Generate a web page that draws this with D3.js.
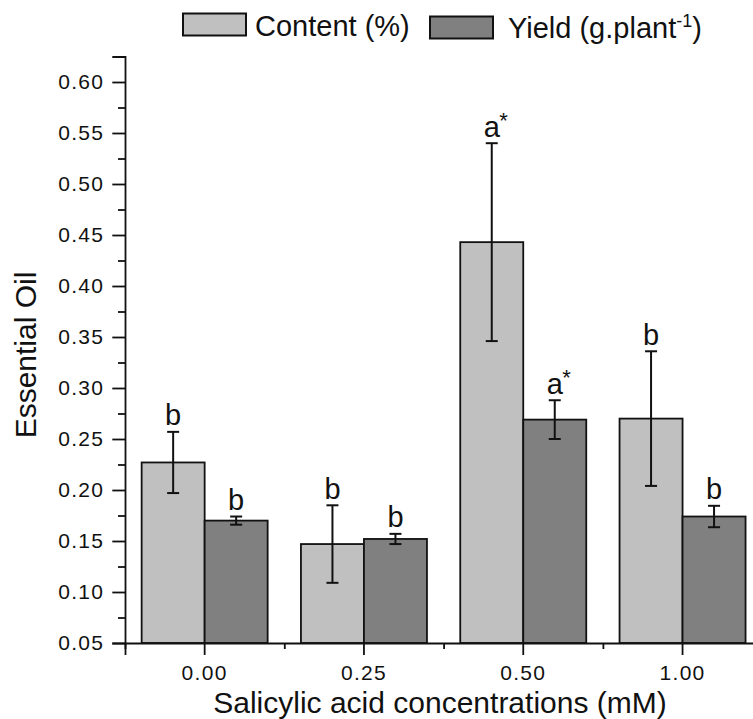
<!DOCTYPE html>
<html>
<head>
<meta charset="utf-8">
<script src="https://cdn.jsdelivr.net/npm/d3@7"></script>
<style>
  html, body { margin: 0; padding: 0; background: #fff; }
  svg text { font-family: "Liberation Sans", Arial, sans-serif; fill: #111; }
</style>
</head>
<body>
<svg id="chart" width="753" height="719"></svg>
<script>
const categories = ["0.00", "0.25", "0.50", "1.00"];
const contentValues = [0.227, 0.147, 0.443, 0.270];
const contentErrors = [0.030, 0.038, 0.097, 0.066];
const yieldValues = [0.170, 0.152, 0.269, 0.174];
const yieldErrors = [0.004, 0.005, 0.019, 0.0105];
const contentLetters = ["b", "b", "a*", "b"];
const yieldLetters = ["b", "b", "a*", "b"];
const yMajorTicks = [0.05, 0.10, 0.15, 0.20, 0.25, 0.30, 0.35, 0.40, 0.45, 0.50, 0.55, 0.60];
const yMinorTicks = [0.075, 0.125, 0.175, 0.225, 0.275, 0.325, 0.375, 0.425, 0.475, 0.525, 0.575, 0.625];

const svg = d3.select("#chart");
const mLeft = 125, mBottom = 643, mTop = 56.5, mRight = 762.2;

const y = d3.scaleLinear().domain([0.05, 0.625]).range([mBottom, mTop]);
const x = d3.scaleBand().domain(categories).range([mLeft, mRight]).padding(0);
const xEdge = d3.scaleLinear().domain([0, categories.length]).range([mLeft, mRight]);
const bw = x.bandwidth() * 0.3955;

const series = [
  { name: "content", values: contentValues, errors: contentErrors, letters: contentLetters, fill: "#c0c0c0", offset: -bw },
  { name: "yield", values: yieldValues, errors: yieldErrors, letters: yieldLetters, fill: "#808080", offset: 0 }
];

// bars
series.forEach(s => {
  const g = svg.append("g");
  g.selectAll("rect").data(categories).join("rect")
    .attr("x", (c) => x(c) + x.bandwidth() / 2 + s.offset)
    .attr("y", (c, i) => y(s.values[i]))
    .attr("width", bw)
    .attr("height", (c, i) => y(0.05) - y(s.values[i]))
    .attr("fill", s.fill)
    .attr("stroke", "#111")
    .attr("stroke-width", 1.8);
});

// error bars & letters
series.forEach(s => {
  const g = svg.append("g");
  categories.forEach((c, i) => {
    const cx = x(c) + x.bandwidth() / 2 + s.offset + bw / 2;
    const hi = y(s.values[i] + s.errors[i]);
    const lo = y(s.values[i] - s.errors[i]);
    g.append("line").attr("x1", cx).attr("x2", cx).attr("y1", hi).attr("y2", lo)
      .attr("stroke", "#111").attr("stroke-width", 2);
    [hi, lo].forEach(yy => g.append("line").attr("x1", cx - 6).attr("x2", cx + 6)
      .attr("y1", yy).attr("y2", yy).attr("stroke", "#111").attr("stroke-width", 2));
    const lab = s.letters[i];
    const letter = lab[0];
    const sup = lab.slice(1);
    g.append("text").attr("x", cx).attr("y", hi - 6.5)
      .attr("text-anchor", "middle").attr("font-size", 29).text(letter);
    if (sup) {
      g.append("text").attr("x", cx + 7.5).attr("y", hi - 15.5)
        .attr("font-size", 22).text(sup);
    }
  });
});

// y axis
const yAxis = svg.append("g").attr("transform", `translate(${mLeft},0)`)
  .call(d3.axisLeft(y).tickValues(yMajorTicks).tickSize(12.7).tickPadding(8).tickFormat(d3.format(".2f")));
svg.append("g").attr("transform", `translate(${mLeft},0)`)
  .call(d3.axisLeft(y).tickValues(yMinorTicks).tickSize(7).tickFormat(""))
  .select(".domain").remove();
yAxis.selectAll("text").attr("font-size", 21).style("letter-spacing", "1.3px").attr("fill", "#111")
  .style("font-family", "'Liberation Sans', Arial, sans-serif");

// x axis
const xAxis = svg.append("g").attr("transform", `translate(0,${mBottom})`)
  .call(d3.axisBottom(x).tickSize(12).tickPadding(10));
svg.append("g").attr("transform", `translate(0,${mBottom})`)
  .call(d3.axisBottom(xEdge).tickValues(d3.range(categories.length + 1)).tickSize(6).tickFormat(""))
  .select(".domain").remove();
xAxis.selectAll("text").attr("font-size", 21).style("letter-spacing", "1.3px").attr("fill", "#111")
  .style("font-family", "'Liberation Sans', Arial, sans-serif");

svg.selectAll(".domain").attr("stroke", "#111").attr("stroke-width", 1.8);
svg.selectAll(".tick line").attr("stroke", "#111").attr("stroke-width", 1.8);

// axis titles
svg.append("text").attr("x", 440).attr("y", 713).attr("text-anchor", "middle")
  .attr("font-size", 30).text("Salicylic acid concentrations (mM)");
svg.append("text").attr("transform", "translate(36,355) rotate(-90)")
  .attr("text-anchor", "middle").attr("font-size", 30).text("Essential Oil");

// legend
const legend = [
  { label: "Content (%)", fill: "#c0c0c0", bx: 183, by: 13.5, tx: 255, ty: 36 },
  { label: "Yield (g.plant", sup: "-1", tail: ")", fill: "#808080", bx: 430, by: 16.5, tx: 508, ty: 38 }
];
legend.forEach(l => {
  svg.append("rect").attr("x", l.bx).attr("y", l.by).attr("width", 63).attr("height", 22)
    .attr("fill", l.fill).attr("stroke", "#111").attr("stroke-width", 2);
  const t = svg.append("text").attr("x", l.tx).attr("y", l.ty).attr("font-size", 29);
  t.append("tspan").text(l.label);
  if (l.sup) {
    t.append("tspan").attr("font-size", 18).attr("dy", -11).text(l.sup);
    t.append("tspan").attr("dy", 11).text(l.tail);
  }
});
</script>
</body>
</html>
